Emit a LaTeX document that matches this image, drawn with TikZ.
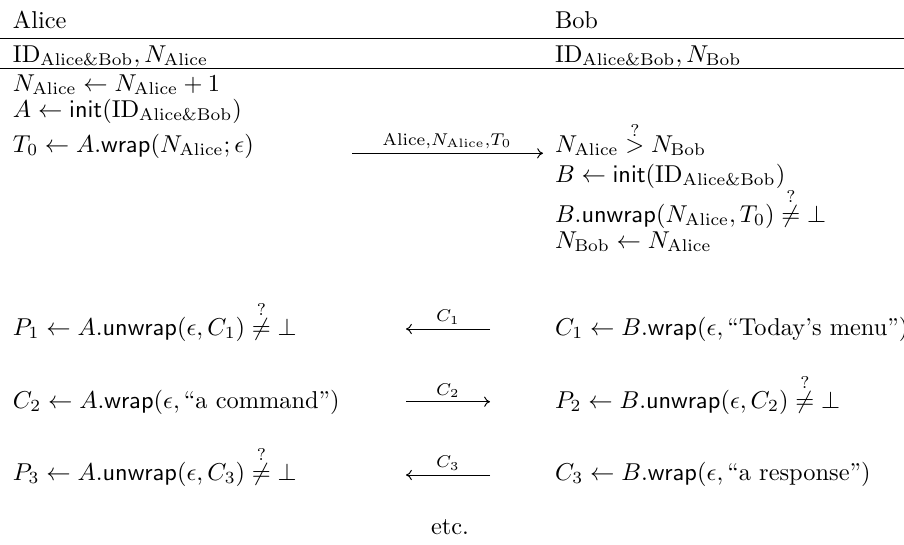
\documentclass[tikz,border=0pt]{standalone}
\usepackage{amsmath}
\usetikzlibrary{arrows.meta}
\newcommand{\IDab}{\mathrm{ID}_{\mathrm{Alice\&Bob}}}
\newcommand{\NA}{N_{\mathrm{Alice}}}
\newcommand{\NB}{N_{\mathrm{Bob}}}
\newcommand{\qmark}[1]{\stackrel{\raisebox{-#1}{$\scriptstyle ?$}}}
\newcommand{\qneq}{\qmark{1.6pt}{\neq}}
\newcommand{\qgt}{\qmark{2.2pt}{>}}
\begin{document}
\begin{tikzpicture}[x=0.41pt,y=-0.41pt,
  txt/.style={inner sep=0pt,outer sep=0pt,anchor=base west},
  lbl/.style={inner sep=0pt,outer sep=0pt,anchor=base},
  rulel/.style={line width=0.4pt},
  msg/.style={line width=0.4pt,-{Computer Modern Rightarrow[width=4.2pt,length=2.4pt]}}]
\useasboundingbox (0,0) rectangle (904,544);
% rules
\coordinate (r1a) at (0,38.3); \coordinate (r1b) at (904,38.3);
\coordinate (r2a) at (0,68.5); \coordinate (r2b) at (904,68.5);
\draw[rulel] (r1a) -- (r1b);
\draw[rulel] (r2a) -- (r2b);
% headers
\node[txt] (alice) at (13,28) {Alice};
\node[txt] (bob) at (555,28) {Bob};
\node[txt] (aks) at (13,62) {$\IDab, \NA$};
\node[txt] (bks) at (555,62) {$\IDab, \NB$};
% Alice initial
\node[txt] (a1) at (13,91) {$\NA \leftarrow \NA + 1$};
\node[txt] (a2) at (13,117) {$A \leftarrow \mathsf{init}(\IDab)$};
\node[txt] (a3) at (13,152) {$T_0 \leftarrow A.\mathsf{wrap}(\NA; \epsilon)$};
% Bob initial
\node[txt] (b1) at (555,152) {$\NA \qgt \NB$};
\node[txt] (b2) at (555,182) {$B \leftarrow \mathsf{init}(\IDab)$};
\node[txt] (b3) at (555,222) {$B.\mathsf{unwrap}(\NA, T_0) \qneq \bot$};
\node[txt] (b4) at (555,248) {$\NB \leftarrow \NA$};
% exchanges
\node[txt] (a4) at (13,335) {$P_1 \leftarrow A.\mathsf{unwrap}(\epsilon, C_1) \qneq \bot$};
\node[txt] (b5) at (555,335) {$C_1 \leftarrow B.\mathsf{wrap}(\epsilon, \text{``Today's menu''})$};
\node[txt] (a5) at (13,408) {$C_2 \leftarrow A.\mathsf{wrap}(\epsilon, \text{``a command''})$};
\node[txt] (b6) at (555,408) {$P_2 \leftarrow B.\mathsf{unwrap}(\epsilon, C_2) \qneq \bot$};
\node[txt] (a6) at (13,480) {$P_3 \leftarrow A.\mathsf{unwrap}(\epsilon, C_3) \qneq \bot$};
\node[txt] (b7) at (555,480) {$C_3 \leftarrow B.\mathsf{wrap}(\epsilon, \text{``a response''})$};
\node[lbl] (etc) at (450,534) {etc.};
% messages
\coordinate (m0s) at (352,153.3); \coordinate (m0e) at (543,153.3);
\draw[msg] (m0s) -- (m0e);
\node[lbl] (m0l) at (447,145) {$\scriptstyle \mathrm{Alice}, \NA, T_0$};
\coordinate (m1s) at (490,329); \coordinate (m1e) at (406,329);
\draw[msg] (m1s) -- (m1e);
\node[lbl] (m1l) at (448,321.7) {$\scriptstyle C_1$};
\coordinate (m2s) at (406,401.7); \coordinate (m2e) at (490,401.7);
\draw[msg] (m2s) -- (m2e);
\node[lbl] (m2l) at (448,395) {$\scriptstyle C_2$};
\coordinate (m3s) at (490,475); \coordinate (m3e) at (406,475);
\draw[msg] (m3s) -- (m3e);
\node[lbl] (m3l) at (448,467.7) {$\scriptstyle C_3$};
\end{tikzpicture}
\end{document}
